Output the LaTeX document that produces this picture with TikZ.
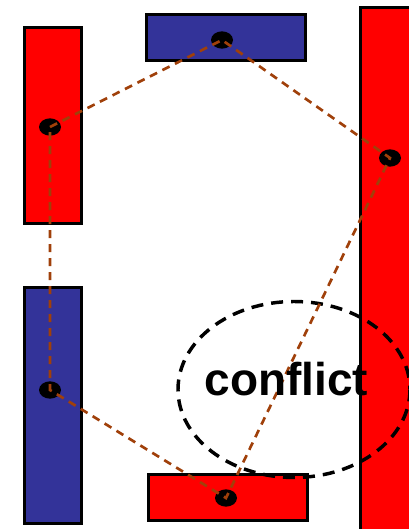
\documentclass[tikz,border=0pt]{standalone}
\usepackage{fontspec}
\setmainfont{Liberation Sans}
\usetikzlibrary{shapes.geometric}
\definecolor{boxred}{RGB}{255,0,0}
\definecolor{boxblue}{RGB}{51,51,153}
\definecolor{linkbrown}{RGB}{160,64,10}
\begin{document}
\begin{tikzpicture}[x=0.75pt,y=-0.75pt,
  box/.style={draw=black,line width=2.3pt},
  dot/.style={ellipse,fill=black,inner sep=0pt,minimum width=16.5pt,minimum height=13pt},
  link/.style={draw=linkbrown,line width=2pt,dash pattern=on 6pt off 4.5pt},
  zone/.style={draw=black,line width=2.6pt,dash pattern=on 9pt off 6pt}]
\useasboundingbox (0,0) rectangle (409,529);
% boxes
\draw[box,fill=boxred]  (24.5,27.5) rectangle (81.5,223.5);
\draw[box,fill=boxblue] (146.5,14.5) rectangle (305.5,60.5);
\draw[box,fill=boxred]  (360.5,7.5) rectangle (430,545);
\draw[box,fill=boxblue] (24.5,287.5) rectangle (81.5,523.5);
\draw[box,fill=boxred]  (148.5,474.5) rectangle (307.5,520.5);
% dots
\node[dot] (lt) at (50,127) {};
\node[dot] (tp) at (222,40) {};
\node[dot] (rt) at (390,158) {};
\node[dot] (lb) at (50,390) {};
\node[dot] (bt) at (226,498) {};
% conflict zone
\draw[zone] (294,389.5) ellipse [x radius=116, y radius=88];
% links
\draw[link] (lt.center) -- (tp.center) -- (rt.center) -- (bt.center) -- (lb.center) -- cycle;
% label
\node[anchor=base,font=\bfseries\fontsize{34.5pt}{34.5pt}\selectfont,inner sep=0pt] (lbl) at (286.5,395) {conflict};
\end{tikzpicture}
\end{document}
